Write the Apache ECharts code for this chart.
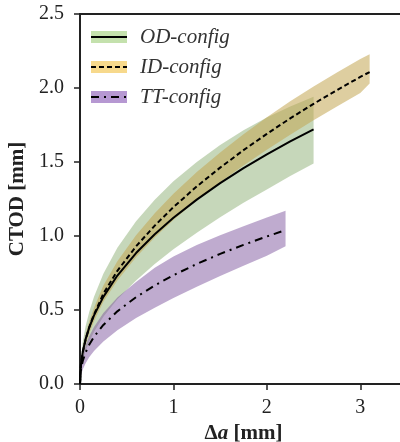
<!DOCTYPE html>
<html>
<head>
<meta charset="utf-8">
<script src="https://cdn.jsdelivr.net/npm/echarts@6/dist/echarts.min.js"></script>
<style>
  html, body { margin: 0; padding: 0; background: #fff; }
  #chart { width: 400px; height: 442px; }
</style>
</head>
<body>
<div id="chart"></div>
<script>
// Crack growth Δa [mm] against CTOD [mm] for three specimen configurations:
// mean curve plus the lower / upper bound of the scatter band.
const odX   = [0, 0.01, 0.03, 0.06, 0.1, 0.15, 0.25, 0.4, 0.6, 0.8, 1.0, 1.25, 1.5, 1.75, 2.0, 2.25, 2.5];
const odMid = [0, 0.131, 0.219, 0.303, 0.384, 0.464, 0.589, 0.733, 0.885, 1.012, 1.123, 1.246, 1.357, 1.458, 1.551, 1.639, 1.721];
const odLo  = [0, 0.094, 0.160, 0.224, 0.288, 0.353, 0.454, 0.572, 0.699, 0.810, 0.910, 1.022, 1.126, 1.225, 1.315, 1.405, 1.490];
const odHi  = [0, 0.170, 0.285, 0.390, 0.490, 0.590, 0.745, 0.920, 1.100, 1.245, 1.370, 1.500, 1.615, 1.715, 1.800, 1.875, 1.941];

const idX   = [0, 0.01, 0.03, 0.06, 0.1, 0.15, 0.25, 0.4, 0.6, 0.8, 1.0, 1.25, 1.5, 1.75, 2.0, 2.25, 2.5, 2.75, 3.0, 3.1];
const idMid = [0, 0.130, 0.215, 0.300, 0.385, 0.470, 0.610, 0.765, 0.930, 1.070, 1.195, 1.335, 1.462, 1.580, 1.690, 1.795, 1.893, 1.985, 2.075, 2.108];
const idLo  = [0, 0.112, 0.187, 0.265, 0.343, 0.424, 0.555, 0.700, 0.857, 0.990, 1.108, 1.242, 1.364, 1.477, 1.582, 1.684, 1.782, 1.875, 1.966, 2.030];
const idHi  = [0, 0.150, 0.245, 0.335, 0.425, 0.515, 0.665, 0.830, 1.005, 1.153, 1.285, 1.432, 1.565, 1.688, 1.802, 1.910, 2.010, 2.105, 2.196, 2.228];

const ttX   = [0, 0.01, 0.03, 0.06, 0.1, 0.15, 0.25, 0.4, 0.6, 0.8, 1.0, 1.25, 1.5, 1.75, 2.0, 2.2];
const ttMid = [0, 0.097, 0.157, 0.213, 0.267, 0.319, 0.399, 0.491, 0.587, 0.666, 0.735, 0.811, 0.879, 0.940, 0.997, 1.040];
const ttLo  = [0, 0.058, 0.099, 0.141, 0.182, 0.223, 0.287, 0.363, 0.446, 0.516, 0.581, 0.657, 0.730, 0.799, 0.867, 0.931];
const ttHi  = [0, 0.120, 0.195, 0.262, 0.325, 0.385, 0.480, 0.585, 0.690, 0.785, 0.862, 0.940, 1.005, 1.066, 1.125, 1.170];

const seriesNames = ['OD-config', 'ID-config', 'TT-config'];
const xTicks = [0, 1, 2, 3];
const yTicks = [0, 0.5, 1.0, 1.5, 2.0, 2.5];

const SERIF = 'Liberation Serif';
const INK = '#222';

const configs = [
  { name: seriesNames[0], x: odX, mid: odMid, lo: odLo, hi: odHi,
    band: 'rgba(120,160,90,0.42)', swatch: '#c4e1ad', dash: 'solid' },
  { name: seriesNames[1], x: idX, mid: idMid, lo: idLo, hi: idHi,
    band: 'rgba(195,166,82,0.55)', swatch: '#f7d98c', dash: [5, 3] },
  { name: seriesNames[2], x: ttX, mid: ttMid, lo: ttLo, hi: ttHi,
    band: 'rgba(128,88,160,0.5)', swatch: '#b698d2', dash: [8, 5, 2, 5] }
];

const pairs = (xs, ys) => xs.map((x, i) => [x, ys[i]]);

const series = [];
// Scatter bands: one polygon per configuration, upper bound out and lower bound back.
configs.forEach((c) => {
  series.push({
    type: 'custom', silent: true, z: 1, clip: true,
    data: pairs(c.x, c.hi),
    encode: { x: 0, y: 1 },
    renderItem: (params, api) => {
      if (params.dataIndex !== 0) return null;
      const pts = [];
      for (let i = 0; i < c.x.length; i++) pts.push(api.coord([c.x[i], c.hi[i]]));
      for (let i = c.x.length - 1; i >= 0; i--) pts.push(api.coord([c.x[i], c.lo[i]]));
      return { type: 'polygon', shape: { points: pts }, style: { fill: c.band, stroke: null } };
    }
  });
});
// Mean curves.
configs.forEach((c) => {
  series.push({
    name: c.name, type: 'line', data: pairs(c.x, c.mid),
    showSymbol: false, silent: true, z: 3,
    lineStyle: { color: '#000', width: 2, type: c.dash }
  });
});

// Legend: band swatch with the curve style drawn across it.
const legend = [];
configs.forEach((c, k) => {
  const cy = 37 + k * 30;
  legend.push({ type: 'rect', shape: { x: 91, y: cy - 6, width: 36, height: 12 },
    style: { fill: c.swatch }, z: 10 });
  legend.push({ type: 'line', shape: { x1: 91, y1: cy, x2: 127, y2: cy },
    style: { stroke: '#000', lineWidth: 2, lineDash: c.dash === 'solid' ? null : c.dash }, z: 11 });
  legend.push({ type: 'text', x: 140, y: cy, z: 11,
    style: { text: c.name, fill: '#333', font: 'italic 21px "Liberation Serif"',
      verticalAlign: 'middle' } });
});

const chart = echarts.init(document.getElementById('chart'), null, { renderer: 'canvas' });
chart.setOption({
  animation: false,
  backgroundColor: '#fff',
  grid: {
    left: 80, right: -7, top: 14, bottom: 58,
    containLabel: false, outerBoundsMode: 'none',
    show: true, borderColor: INK, borderWidth: 2, backgroundColor: 'transparent'
  },
  xAxis: {
    type: 'value', min: 0, max: 3.5, interval: 1,
    name: '{d|Δ}{a|a}{d| [mm]}', nameLocation: 'middle', nameGap: 36,
    nameTextStyle: {
      rich: {
        d: { fontFamily: SERIF, fontWeight: 'bold', fontSize: 21, color: INK },
        a: { fontFamily: SERIF, fontWeight: 'bold', fontStyle: 'italic', fontSize: 21, color: INK }
      }
    },
    axisLine: { show: true, lineStyle: { color: INK, width: 2 } },
    axisTick: { show: true, inside: false, length: 6, lineStyle: { color: INK, width: 1.5 } },
    axisLabel: {
      margin: 14, fontFamily: SERIF, fontSize: 20, color: INK,
      formatter: (v) => xTicks.includes(v) ? String(v) : ''
    },
    splitLine: { show: false }
  },
  yAxis: {
    type: 'value', min: 0, max: 2.5, interval: 0.5,
    name: 'CTOD [mm]', nameLocation: 'middle', nameGap: 50,
    nameTextStyle: { fontFamily: SERIF, fontWeight: 'bold', fontSize: 21, color: INK },
    axisLine: { show: true, lineStyle: { color: INK, width: 2 } },
    axisTick: { show: true, inside: false, length: 6, lineStyle: { color: INK, width: 1.5 } },
    axisLabel: {
      margin: 16, fontFamily: SERIF, fontSize: 20, color: INK,
      formatter: (v) => yTicks.some(t => Math.abs(t - v) < 1e-9) ? v.toFixed(1) : ''
    },
    splitLine: { show: false }
  },
  graphic: legend,
  series: series
});
</script>
</body>
</html>
